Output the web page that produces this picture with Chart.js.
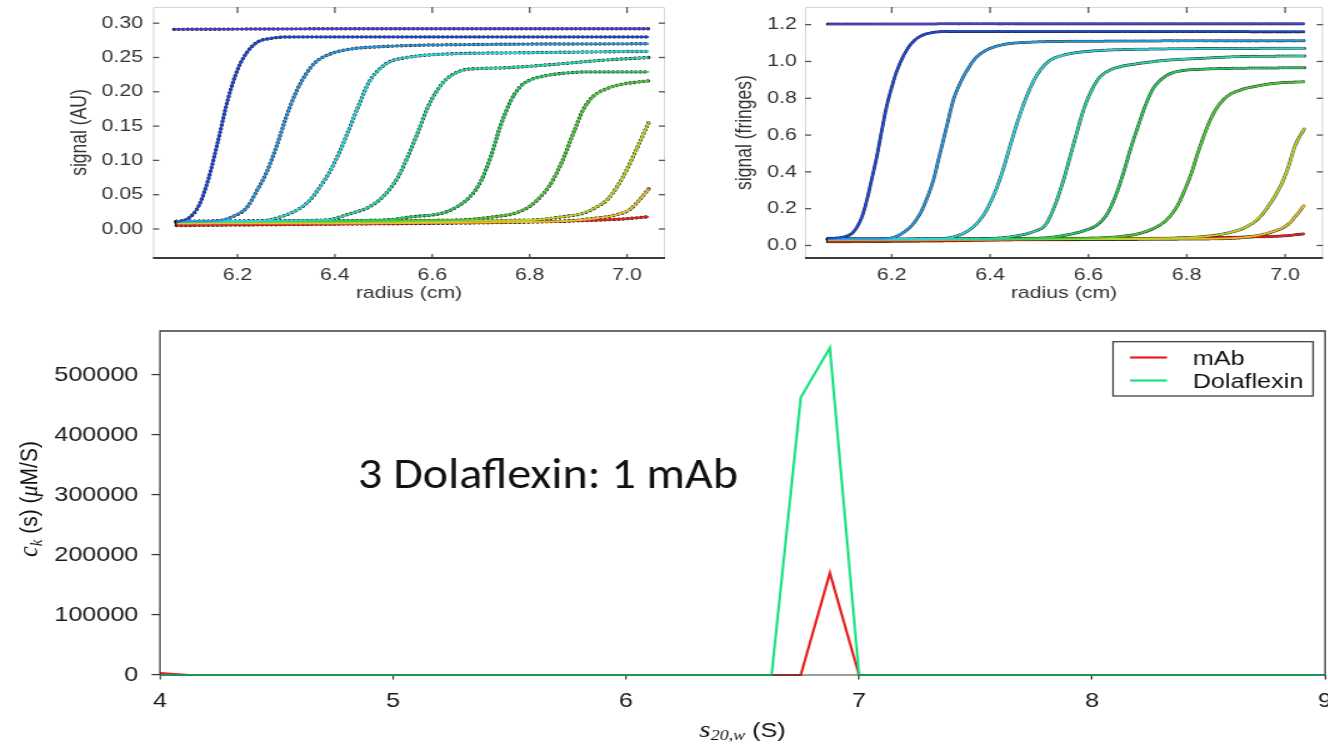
<!DOCTYPE html>
<html>
<head>
<meta charset="utf-8">
<script src="https://cdn.jsdelivr.net/npm/chart.js@4.4.1/dist/chart.umd.min.js"></script>
<style>
html,body{margin:0;padding:0;background:#fff;width:1328px;height:747px;overflow:hidden;}
.wrap{position:absolute;transform-origin:0 0;}
canvas{display:block;}
</style>
</head>
<body>
<div class="wrap" style="left:0;top:0;transform:scaleX(1.25)"><canvas id="cTL" width="544" height="310"></canvas></div>
<div class="wrap" style="left:680px;top:0;transform:scaleX(1.25)"><canvas id="cTR" width="518" height="310"></canvas></div>
<div class="wrap" style="left:0;top:310px;transform:scaleX(1.2)"><canvas id="cB" width="1107" height="437"></canvas></div>
<script>
const FONT = '"Liberation Sans", Arial, Helvetica, sans-serif';
const SERIF = '"Liberation Serif", "Times New Roman", serif';

// ---------- top-left: absorbance scans  [radius (cm), signal (AU)] ----------
const radiusTicks = [6.2, 6.4, 6.6, 6.8, 7.0];
const absTicks = [0.00, 0.05, 0.10, 0.15, 0.20, 0.25, 0.30];
const absScan0 = [[6.07,0.291],[6.5,0.292],[7.045,0.292]];
const absScan1 = [[6.075,0.010],[6.10,0.016],[6.12,0.033],[6.14,0.072],[6.16,0.128],[6.18,0.188],[6.20,0.232],[6.22,0.258],[6.24,0.272],[6.27,0.278],[6.32,0.280],[7.045,0.280]];
const absScan2 = [[6.075,0.011],[6.16,0.012],[6.19,0.018],[6.22,0.032],[6.24,0.056],[6.26,0.083],[6.28,0.120],[6.30,0.163],[6.32,0.199],[6.34,0.225],[6.36,0.243],[6.39,0.255],[6.43,0.262],[6.50,0.266],[6.70,0.269],[7.045,0.270]];
const absScan3 = [[6.075,0.011],[6.25,0.012],[6.29,0.018],[6.33,0.031],[6.35,0.043],[6.37,0.062],[6.39,0.084],[6.41,0.113],[6.43,0.147],[6.45,0.182],[6.47,0.214],[6.49,0.232],[6.51,0.243],[6.54,0.249],[6.60,0.254],[6.80,0.257],[7.045,0.259]];
const absScan4 = [[6.075,0.011],[6.38,0.013],[6.43,0.022],[6.47,0.032],[6.50,0.048],[6.53,0.076],[6.55,0.106],[6.57,0.140],[6.59,0.176],[6.61,0.202],[6.63,0.219],[6.66,0.231],[6.70,0.234],[6.75,0.235],[6.85,0.240],[6.95,0.246],[7.045,0.250]];
const absScan5 = [[6.075,0.011],[6.50,0.013],[6.56,0.018],[6.62,0.023],[6.65,0.032],[6.68,0.049],[6.70,0.070],[6.72,0.105],[6.74,0.150],[6.76,0.185],[6.78,0.207],[6.80,0.217],[6.83,0.223],[6.87,0.227],[6.92,0.229],[7.045,0.229]];
const absScan6 = [[6.075,0.011],[6.65,0.013],[6.73,0.018],[6.77,0.023],[6.80,0.033],[6.83,0.053],[6.85,0.074],[6.87,0.104],[6.89,0.140],[6.91,0.174],[6.93,0.193],[6.96,0.205],[6.99,0.211],[7.02,0.214],[7.045,0.216]];
const absScan7 = [[6.075,0.010],[6.80,0.013],[6.87,0.018],[6.91,0.023],[6.94,0.033],[6.96,0.043],[6.98,0.062],[7.00,0.087],[7.02,0.117],[7.045,0.156]];
const absScan8 = [[6.075,0.008],[6.85,0.011],[6.94,0.016],[6.98,0.021],[7.005,0.028],[7.025,0.042],[7.045,0.059]];
const absScan9 = [[6.075,0.005],[6.40,0.007],[6.70,0.009],[6.90,0.012],[7.00,0.015],[7.045,0.018]];

// ---------- top-right: interference scans  [radius (cm), signal (fringes)] ----------
const fringeTicks = [0.0, 0.2, 0.4, 0.6, 0.8, 1.0, 1.2];
const frScan0 = [[6.07,1.203],[6.5,1.205],[7.04,1.205]];
const frScan1 = [[6.07,0.038],[6.10,0.045],[6.12,0.068],[6.13,0.103],[6.14,0.160],[6.15,0.253],[6.16,0.368],[6.17,0.488],[6.18,0.628],[6.19,0.760],[6.20,0.860],[6.21,0.945],[6.23,1.060],[6.25,1.123],[6.28,1.156],[6.32,1.163],[7.04,1.162]];
const frScan2 = [[6.07,0.036],[6.19,0.038],[6.21,0.050],[6.23,0.083],[6.245,0.122],[6.26,0.185],[6.27,0.245],[6.285,0.358],[6.295,0.466],[6.305,0.573],[6.315,0.682],[6.325,0.788],[6.34,0.887],[6.355,0.960],[6.37,1.017],[6.39,1.058],[6.42,1.088],[6.46,1.102],[6.60,1.110],[7.04,1.113]];
const frScan3 = [[6.07,0.035],[6.30,0.037],[6.33,0.050],[6.35,0.072],[6.37,0.112],[6.39,0.180],[6.41,0.290],[6.425,0.400],[6.44,0.535],[6.455,0.665],[6.47,0.780],[6.485,0.875],[6.50,0.945],[6.52,1.002],[6.55,1.035],[6.60,1.055],[6.70,1.066],[7.04,1.072]];
const frScan4 = [[6.07,0.034],[6.40,0.038],[6.46,0.055],[6.49,0.077],[6.51,0.105],[6.52,0.145],[6.535,0.240],[6.55,0.362],[6.565,0.505],[6.575,0.600],[6.59,0.736],[6.605,0.835],[6.62,0.905],[6.64,0.948],[6.665,0.972],[6.70,0.988],[6.76,1.007],[6.83,1.017],[6.90,1.026],[7.04,1.030]];
const frScan5 = [[6.07,0.033],[6.50,0.040],[6.555,0.057],[6.595,0.084],[6.62,0.117],[6.64,0.180],[6.655,0.268],[6.67,0.384],[6.685,0.519],[6.70,0.640],[6.715,0.755],[6.73,0.845],[6.745,0.895],[6.765,0.932],[6.79,0.950],[6.83,0.958],[6.90,0.963],[7.04,0.966]];
const frScan6 = [[6.07,0.033],[6.60,0.040],[6.66,0.048],[6.705,0.066],[6.74,0.103],[6.76,0.142],[6.78,0.212],[6.795,0.296],[6.81,0.398],[6.82,0.482],[6.835,0.598],[6.85,0.695],[6.865,0.762],[6.88,0.806],[6.91,0.846],[6.94,0.865],[6.98,0.882],[7.04,0.890]];
const frScan7 = [[6.07,0.032],[6.75,0.038],[6.83,0.048],[6.88,0.066],[6.92,0.100],[6.95,0.158],[6.97,0.230],[6.99,0.320],[7.005,0.415],[7.02,0.540],[7.04,0.640]];
const frScan8 = [[6.07,0.030],[6.85,0.036],[6.93,0.048],[6.975,0.075],[7.005,0.112],[7.02,0.155],[7.04,0.222]];
const frScan9 = [[6.07,0.020],[6.30,0.025],[6.45,0.032],[6.70,0.038],[6.90,0.045],[7.00,0.053],[7.04,0.064]];

const scanColors = ['#4b3fdc','#1f48d6','#2a96dc','#2fd3d6','#2ed3a0','#2cc860','#4cc83a','#b4d62a','#e6bf2a','#e42020'];

// ---------- bottom: c(s) distribution ----------
const sGrid = [4,4.125,4.25,4.375,4.5,4.625,4.75,4.875,5,5.125,5.25,5.375,5.5,5.625,5.75,5.875,6,6.125,6.25,6.375,6.5,6.625,6.75,6.875,7,7.125,7.25,7.375,7.5,7.625,7.75,7.875,8,8.125,8.25,8.375,8.5,8.625,8.75,8.875,9];
const mAb = [3000,0,0,0,0,0,0,0,0,0, 0,0,0,0,0,0,0,0,0,0, 0,0,0,170000,0,0,0,0,0,0, 0,0,0,0,0,0,0,0,0,0, 0];
const dolaflexin = [0,0,0,0,0,0,0,0,0,0, 0,0,0,0,0,0,0,0,0,0, 0,0,462000,545000,0,0,0,0,0,0, 0,0,0,0,0,0,0,0,0,0, 0];
const sTicks = [4,5,6,7,8,9];
const ckTicks = [0,100000,200000,300000,400000,500000];
const seriesNames = ['mAb','Dolaflexin'];
const seriesColors = ['#ea1c1c','#19e27f'];
const annotationText = '3 Dolaflexin: 1 mAb';

// ---------- top panels ----------
function line(ctx,x1,y1,x2,y2){ctx.beginPath();ctx.moveTo(x1,y1);ctx.lineTo(x2,y2);ctx.stroke();}

const topFrame = {
  id:'topFrame',
  beforeDatasetsDraw(chart){
    const {ctx, chartArea:a, scales:{x,y}} = chart;
    ctx.save();
    ctx.strokeStyle='#d6d6d6'; ctx.lineWidth=1;
    ctx.beginPath(); ctx.moveTo(a.left+0.5,a.bottom); ctx.lineTo(a.left+0.5,a.top+0.5);
    ctx.lineTo(a.right-0.5,a.top+0.5); ctx.lineTo(a.right-0.5,a.bottom); ctx.stroke();
    ctx.strokeStyle='#555'; ctx.lineWidth=1.3;
    y.ticks.forEach(t=>{const p=y.getPixelForValue(t.value); line(ctx,a.left,p,a.left+5,p); line(ctx,a.right-5,p,a.right,p);});
    x.ticks.forEach(t=>{const p=x.getPixelForValue(t.value); line(ctx,p,a.top,p,a.top+6); line(ctx,p,a.bottom-4,p,a.bottom);});
    ctx.strokeStyle='#3a3a3a'; ctx.lineWidth=2.2;
    line(ctx,a.left,a.bottom,a.right,a.bottom);
    ctx.restore();
  }
};

function topChart(id, scans, o){
  const ds = [];
  scans.forEach((pts,i)=>ds.push({
    label:'fit '+i, data:pts.map(p=>({x:p[0],y:p[1]})),
    borderColor:scanColors[i], borderWidth:1.9, pointRadius:0,
    cubicInterpolationMode:'monotone', fill:false, order:1
  }));
  scans.forEach((pts,i)=>ds.push({
    label:'data '+i, data:pts.map(p=>({x:p[0],y:p[1]})),
    borderColor:'rgba(0,0,0,0.9)', borderWidth:o.dotW, borderDash:o.dash, borderCapStyle:'round', pointRadius:0,
    cubicInterpolationMode:'monotone', fill:false, order:2
  }));
  return new Chart(document.getElementById(id),{
    type:'line',
    data:{datasets:ds},
    plugins:[topFrame],
    options:{
      responsive:false, animation:false, devicePixelRatio:1,
      layout:{padding:{left:0,right:o.padR,top:7,bottom:0}},
      plugins:{legend:{display:false},tooltip:{enabled:false}},
      scales:{
        x:{type:'linear',min:o.xmin,max:o.xmax,
          grid:{display:false,drawTicks:false},border:{display:false},
          afterBuildTicks:s=>{s.ticks=radiusTicks.map(v=>({value:v}));},
          afterFit:s=>{s.height=52;s.paddingLeft=0;s.paddingRight=0;},
          ticks:{padding:7,color:'#333',font:{family:FONT,size:17},callback:v=>Number(v).toFixed(1)},
          title:{display:true,text:'radius (cm)',color:'#333',font:{family:FONT,size:17},padding:{top:0,bottom:6}}
        },
        y:{type:'linear',min:o.ymin,max:o.ymax,
          grid:{display:false,drawTicks:false},border:{display:false},
          afterBuildTicks:s=>{s.ticks=o.yTicks.map(v=>({value:v}));},
          afterFit:s=>{s.width=o.yW;s.paddingTop=0;s.paddingBottom=0;},
          ticks:{padding:o.yPad,color:'#333',font:{family:FONT,size:17},callback:v=>Number(v).toFixed(o.dec)},
          title:{display:true,text:o.yTitle,color:'#333',font:{family:FONT,size:17.5},padding:{top:o.titlePad,bottom:0}}
        }
      }
    }
  });
}

topChart('cTL',[absScan0,absScan1,absScan2,absScan3,absScan4,absScan5,absScan6,absScan7,absScan8,absScan9],
  {xmin:6.0265,xmax:7.078,ymin:-0.0423,ymax:0.3236,yTicks:absTicks,dec:2,yW:122.4,padR:12,yPad:8,
   yTitle:'signal (AU)',titlePad:53.8,dotW:3.4,dash:[0.01,3.6]});
topChart('cTR',[frScan0,frScan1,frScan2,frScan3,frScan4,frScan5,frScan6,frScan7,frScan8,frScan9],
  {xmin:6.0236,xmax:7.077,ymin:-0.068,ymax:1.296,yTicks:fringeTicks,dec:1,yW:100,padR:3.6,yPad:6.5,
   yTitle:'signal (fringes)',titlePad:41.8,dotW:3.0,dash:[0.01,2.2]});

// ---------- bottom panel ----------
const SX = 1.2;
function drawRich(ctx, parts, cx, by){
  let total=0;
  parts.forEach(p=>{ctx.font=p.font; p.w=ctx.measureText(p.t).width; total+=p.w;});
  let x=cx-total/2;
  parts.forEach(p=>{ctx.font=p.font; ctx.fillText(p.t,x,by+(p.dy||0)); x+=p.w;});
}
const bottomDeco = {
  id:'bottomDeco',
  afterDatasetsDraw(chart){
    const {ctx, chartArea:a} = chart;
    ctx.save();
    ctx.strokeStyle='#3d3d3d'; ctx.lineWidth=1.3;
    ctx.beginPath(); ctx.moveTo(a.left,a.bottom); ctx.lineTo(a.left,a.top);
    ctx.lineTo(a.right,a.top); ctx.lineTo(a.right,a.bottom); ctx.stroke();
    ctx.strokeStyle='rgba(45,60,50,0.65)'; ctx.lineWidth=1.6;
    line(ctx,a.left,a.bottom,a.right,a.bottom);
    ctx.restore();
  },
  afterDraw(chart){
    const {ctx, chartArea:a} = chart;
    ctx.save();
    ctx.fillStyle='#111'; ctx.textBaseline='alphabetic'; ctx.textAlign='left';
    // x title
    drawRich(ctx,[
      {t:'s',font:'italic 24px '+SERIF},
      {t:'20,w',font:'italic 15px '+SERIF,dy:3.5},
      {t:' (S)',font:'21px '+FONT}
    ],(a.left+a.right)/2,426.5);
    // y title
    ctx.save();
    ctx.translate(30.5,189); ctx.rotate(-Math.PI/2);
    drawRich(ctx,[
      {t:'c',font:'italic 24px '+SERIF},
      {t:'k',font:'italic 15px '+SERIF,dy:4},
      {t:' (s) (',font:'21px '+FONT},
      {t:'\u03BC',font:'italic 22px '+SERIF},
      {t:'M/S)',font:'21px '+FONT}
    ],0,0);
    ctx.restore();
    // legend
    const lx0=927.5, ly0=31.7, lw=166.7, lh=54.3;
    ctx.strokeStyle='#333'; ctx.lineWidth=1.2;
    ctx.strokeRect(lx0,ly0,lw,lh);
    const rows=[48,71];
    chart.data.datasets.forEach((d,i)=>{
      ctx.strokeStyle=d.borderColor; ctx.lineWidth=2.2;
      line(ctx,941.7,rows[i]-0.5,972.5,rows[i]-0.5);
      ctx.fillStyle='#111'; ctx.font='21px '+FONT; ctx.textBaseline='middle';
      ctx.fillText(d.label,993.9,rows[i]+1);
    });
    // annotation (drawn in page units, not stretched)
    ctx.scale(1/SX,1);
    ctx.font='44px Carlito, Lato, "Open Sans", sans-serif';
    ctx.textBaseline='alphabetic';
    const w=ctx.measureText(annotationText).width;
    ctx.translate(358,178);
    ctx.scale(380/w,1);
    ctx.fillStyle='#111';
    ctx.fillText(annotationText,0,0);
    ctx.restore();
  }
};

new Chart(document.getElementById('cB'),{
  type:'line',
  data:{datasets:[
    {label:seriesNames[0],data:sGrid.map((s,i)=>({x:s,y:mAb[i]})),borderColor:seriesColors[0],borderWidth:2.2,pointRadius:0,tension:0,fill:false,order:2,clip:8},
    {label:seriesNames[1],data:sGrid.map((s,i)=>({x:s,y:dolaflexin[i]})),borderColor:seriesColors[1],borderWidth:2.2,pointRadius:0,tension:0,fill:false,order:1,clip:8}
  ]},
  plugins:[bottomDeco],
  options:{
    responsive:false, animation:false, devicePixelRatio:1,
    layout:{padding:{left:0,right:2.8,top:21,bottom:0}},
    plugins:{legend:{display:false},tooltip:{enabled:false}},
    scales:{
      x:{type:'linear',min:4,max:9,
        grid:{display:true,drawOnChartArea:false,drawTicks:true,tickLength:4.5,color:'#333',lineWidth:1.2},
        border:{display:false},
        afterBuildTicks:s=>{s.ticks=sTicks.map(v=>({value:v}));},
        afterFit:s=>{s.height=72;s.paddingLeft=0;s.paddingRight=0;},
        ticks:{padding:9,color:'#1a1a1a',font:{family:FONT,size:21},maxRotation:0,autoSkip:false,callback:v=>String(v)}
      },
      y:{type:'linear',min:0,max:573000,
        grid:{display:true,drawOnChartArea:false,drawTicks:true,tickLength:7,color:'#333',lineWidth:1.2},
        border:{display:false},
        afterBuildTicks:s=>{s.ticks=ckTicks.map(v=>({value:v}));},
        afterFit:s=>{s.width=133.3;s.paddingTop=0;s.paddingBottom=0;},
        ticks:{padding:11,color:'#1a1a1a',font:{family:FONT,size:21},callback:v=>String(v)}
      }
    }
  }
});
</script>
</body>
</html>
